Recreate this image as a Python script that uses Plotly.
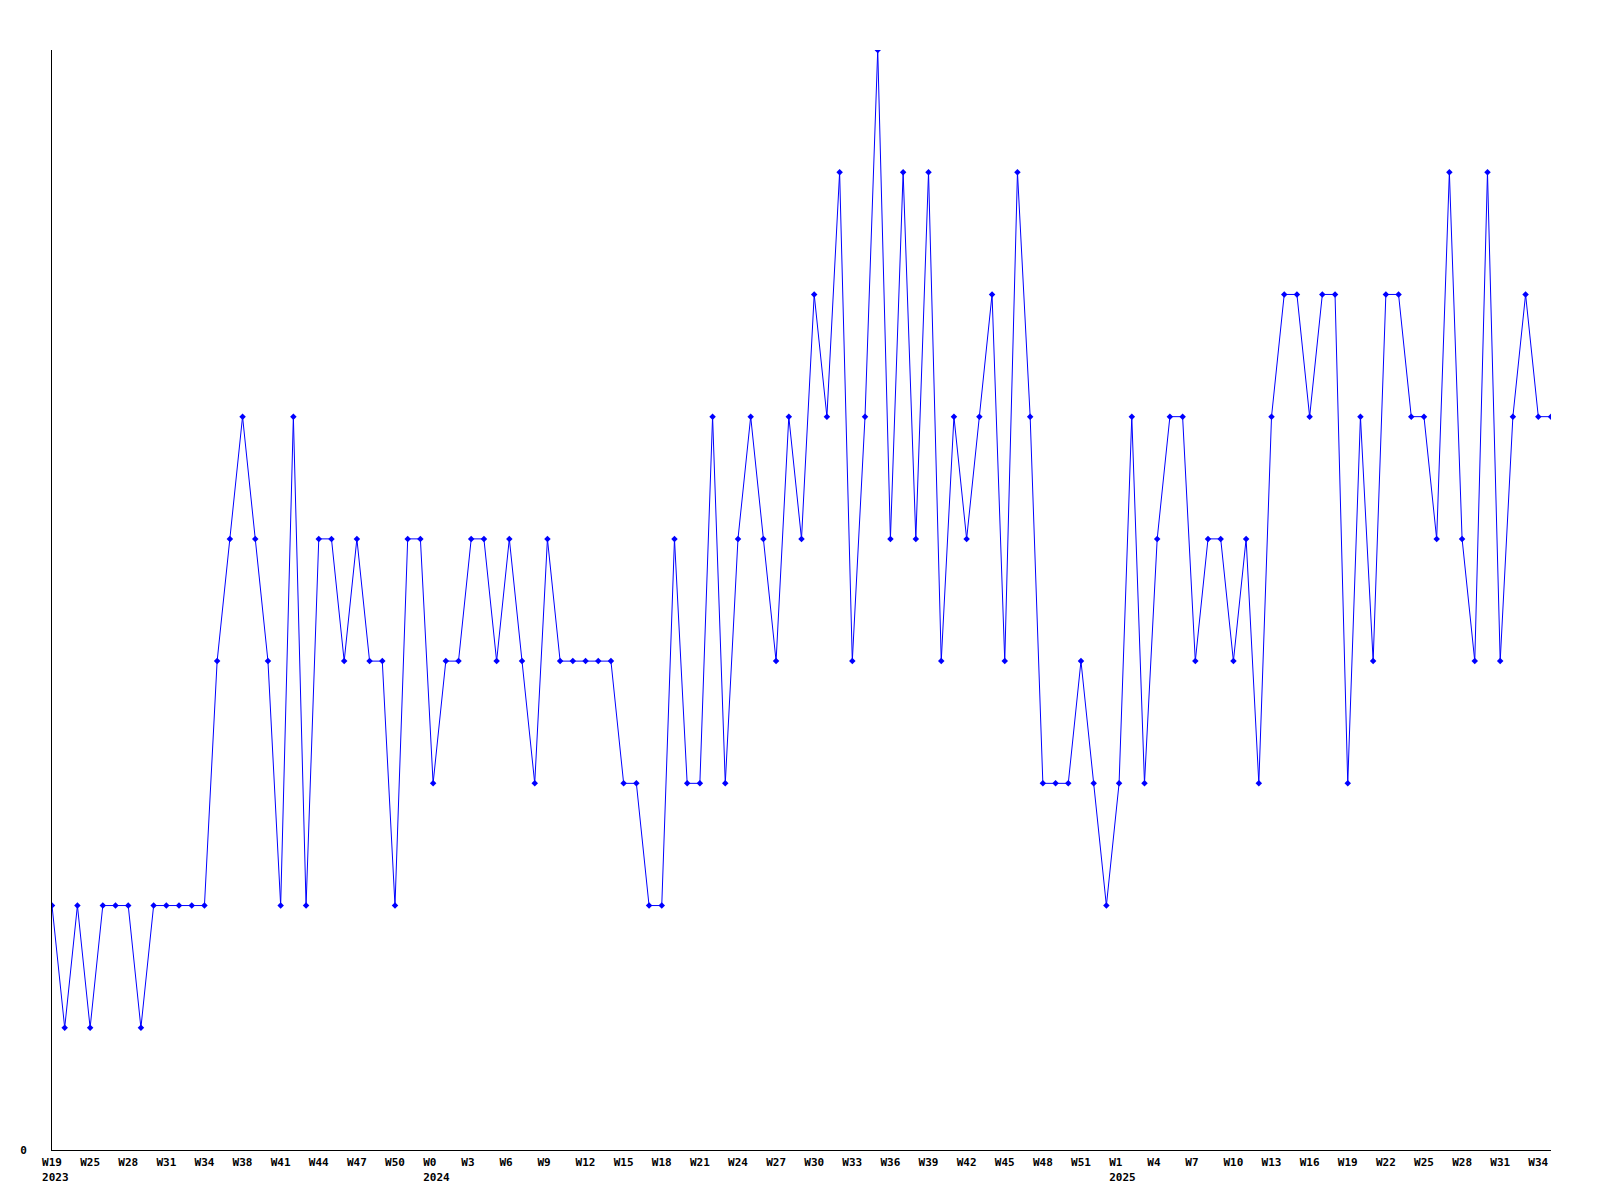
import plotly.graph_objects as go

# Weekly values, one per point (W19 2023 ... W35 2025)
values = [
    2, 1, 2, 1, 2, 2, 2, 1, 2, 2,
    2, 2, 2, 4, 5, 6, 5, 4, 2, 6,
    2, 5, 5, 4, 5, 4, 4, 2, 5, 5,
    3, 4, 4, 5, 5, 4, 5, 4, 3, 5,
    4, 4, 4, 4, 4, 3, 3, 2, 2, 5,
    3, 3, 6, 3, 5, 6, 5, 4, 6, 5,
    7, 6, 8, 4, 6, 9, 5, 8, 5, 8,
    4, 6, 5, 6, 7, 4, 8, 6, 3, 3,
    3, 4, 3, 2, 3, 6, 3, 5, 6, 6,
    4, 5, 5, 4, 5, 3, 6, 7, 7, 6,
    7, 7, 3, 6, 4, 7, 7, 6, 6, 5,
    8, 5, 4, 8, 4, 6, 7, 6, 6,
]

# Axis tick labels (every third point)
tick_weeks = [
    "W19", "W25", "W28", "W31", "W34", "W38", "W41", "W44", "W47", "W50",
    "W0", "W3", "W6", "W9", "W12", "W15", "W18", "W21", "W24", "W27",
    "W30", "W33", "W36", "W39", "W42", "W45", "W48", "W51", "W1", "W4",
    "W7", "W10", "W13", "W16", "W19", "W22", "W25", "W28", "W31", "W34",
]
tick_years = {0: "2023", 10: "2024", 28: "2025"}

x = list(range(len(values)))
tick_step = 3
tickvals = [i * tick_step for i in range(len(tick_weeks))]
ticktext = []
for k, w in enumerate(tick_weeks):
    label = w.ljust(3, "\u00a0")
    if k in tick_years:
        label = label + "<br>\u00a0" + tick_years[k]
    ticktext.append(label)

font = dict(family="DejaVu Sans Mono, Liberation Mono, monospace", size=11,
            color="#000000", weight="bold")

fig = go.Figure()
fig.add_trace(go.Scatter(
    x=x, y=values, mode="lines+markers",
    line=dict(color="#0000ff", width=1),
    marker=dict(symbol="diamond", size=5, color="#0000ff"),
    showlegend=False, hoverinfo="x+y",
))

fig.update_layout(
    width=1600, height=1200,
    margin=dict(l=42, r=57, t=42, b=58),
    paper_bgcolor="#ffffff", plot_bgcolor="#ffffff",
    font=font,
    xaxis=dict(
        range=[0, len(values) - 1], tickvals=tickvals, ticktext=ticktext,
        showgrid=False, zeroline=False, showline=True, linecolor="#000000",
        linewidth=1, ticks="", tickfont=font, tickangle=0,
        ticklabelstandoff=2,
    ),
    yaxis=dict(
        range=[0, 9], tickvals=[0], ticktext=["0"],
        showgrid=False, zeroline=False, showline=True, linecolor="#000000",
        linewidth=1, ticks="", tickfont=font, ticklabelstandoff=22,
    ),
)

fig.write_html("out.html")
